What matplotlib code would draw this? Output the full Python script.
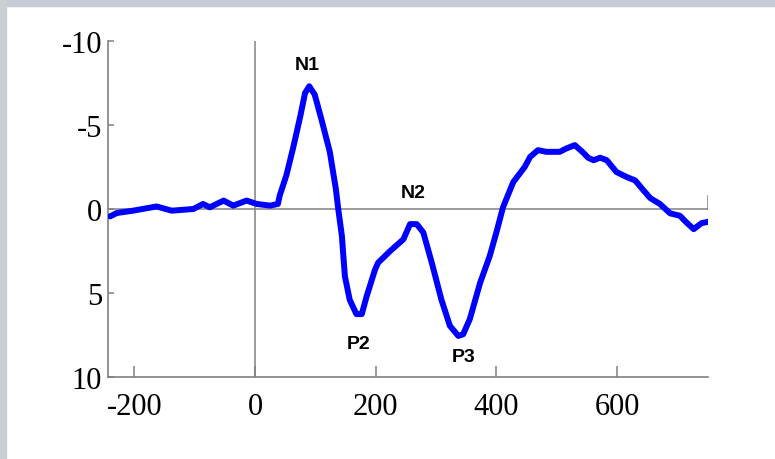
import matplotlib.pyplot as plt
from matplotlib.patches import Rectangle

# ERP waveform (ms, microvolts; negative up)
tiempo = [-240, -229, -202, -163, -138, -102, -86, -75, -52, -36, -14, 3, 25, 38,
          41, 52, 63, 75, 83, 90, 99, 110, 124, 134, 138, 144, 149, 157, 168, 177,
          185, 199, 204, 224, 246, 257, 268, 279, 293, 309, 323, 337, 345, 356,
          373, 389, 400, 411, 428, 447, 456, 469, 483, 505, 516, 530, 544, 552,
          561, 572, 583, 599, 616, 630, 644, 655, 671, 688, 704, 715, 727, 740, 751]
amplitud = [0.44, 0.24, 0.1, -0.15, 0.1, 0.0, -0.3, -0.1, -0.5, -0.2, -0.5, -0.3, -0.2, -0.3,
            -0.8, -2.0, -3.6, -5.5, -6.9, -7.3, -6.8, -5.35, -3.4, -1.2, 0.0, 1.6, 4.0, 5.4, 6.25, 6.25,
            5.2, 3.6, 3.2, 2.5, 1.8, 0.9, 0.9, 1.4, 3.2, 5.4, 6.95, 7.55, 7.45, 6.55,
            4.4, 2.8, 1.4, -0.1, -1.6, -2.5, -3.1, -3.5, -3.4, -3.4, -3.6, -3.8, -3.35, -3.05,
            -2.9, -3.05, -2.9, -2.2, -1.9, -1.7, -1.1, -0.65, -0.3, 0.26, 0.4, 0.8, 1.2, 0.84, 0.76]

componentes = ['N1', 'N2', 'P2', 'P3']
comp_x = [86, 263, 171, 345]
comp_y = [-8.6, -1.0, 8.0, 8.8]

xticks = [-200, 0, 200, 400, 600]
yticks = [-10, -5, 0, 5, 10]

cinza = '#808080'

fig = plt.figure(figsize=(7.75, 4.6), dpi=100)
fig.patch.set_facecolor('white')
# faixa azulada do fundo (topo e esquerda)
fig.patches.append(Rectangle((0, 1 - 7 / 460), 1, 7 / 460, transform=fig.transFigure,
                             color='#c6cbd6', zorder=0))
fig.patches.append(Rectangle((0, 0), 6 / 775, 1, transform=fig.transFigure,
                             color='#c9cfd2', zorder=0))

ax = fig.add_axes([0.139, 0.178, 0.774, 0.731])
ax.set_xlim(-244, 750)
ax.set_ylim(10, -10)

ax.spines['top'].set_visible(False)
ax.spines['right'].set_visible(False)
ax.spines['left'].set_color(cinza)
ax.spines['bottom'].set_color(cinza)
ax.spines['left'].set_linewidth(1.2)
ax.spines['bottom'].set_linewidth(1.2)

# eixos de referencia
ax.plot([-244, 750], [0, 0], color=cinza, lw=1.1, zorder=1)
ax.plot([0, 0], [-10, 10], color=cinza, lw=1.1, zorder=1)
ax.plot([750, 750], [0, -0.8], color=cinza, lw=1.1, zorder=1)

ax.plot(tiempo, amplitud, color='#0000ff', lw=4.3, solid_joinstyle='round',
        solid_capstyle='round', zorder=3)

for nome, x, y in zip(componentes, comp_x, comp_y):
    ax.text(x, y, nome, ha='center', va='center', fontsize=14, fontweight='bold',
            family='Liberation Sans')

ax.set_xticks(xticks)
ax.set_yticks(yticks)
ax.set_xticklabels([str(t) for t in xticks])
ax.set_yticklabels([str(t) for t in yticks])
ax.tick_params(axis='both', direction='in', color=cinza, width=1.1, labelsize=22)
ax.tick_params(axis='x', length=8, pad=11)
ax.tick_params(axis='y', length=4, pad=4)
for lab in ax.get_xticklabels() + ax.get_yticklabels():
    lab.set_family('Liberation Serif')

fig.savefig('out.png', dpi=100)
